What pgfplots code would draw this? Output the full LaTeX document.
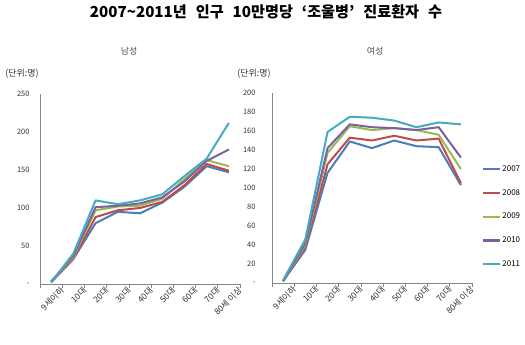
\documentclass[border=0pt]{standalone}
\usepackage{fontspec}
\setmainfont{Noto Sans CJK KR}
\usepackage{pgfplots}
\pgfplotsset{compat=1.18}
\definecolor{c07}{HTML}{4A7EBB}
\definecolor{c08}{HTML}{BE4B48}
\definecolor{c09}{HTML}{98B954}
\definecolor{c10}{HTML}{7D60A0}
\definecolor{c11}{HTML}{46AAC5}
\definecolor{axgray}{HTML}{868686}
\pgfplotsset{
  common/.style={
    width=200bp, height=190bp, scale only axis,
    axis x line*=bottom, axis y line*=left,
    axis line style={draw=axgray, line width=0.6bp},
    xmin=-0.5, xmax=8.5,
    xtick={0,...,8},
    xticklabels={9세이하,10대,20대,30대,40대,50대,60대,70대,80세 이상},
    minor xtick={-0.5,0.5,...,8.5},
    major tick length=0pt, minor tick length=4bp, tick align=outside,
    minor tick style={draw=axgray, line width=0.6bp},
    xticklabel style={rotate=45, anchor=north east, xshift=5bp, yshift=-7bp, inner sep=0.5bp, font=\fontsize{8.5}{9}\selectfont, text=black!80},
    yticklabel style={font=\fontsize{7.5}{8}\selectfont, text=black!80, xshift=-7bp},
    /pgf/number format/assume math mode=true,
    every axis plot/.append style={line width=2bp, no markers, line join=round},
  }
}
\begin{document}
\begin{tikzpicture}[x=1bp,y=1bp]
\useasboundingbox (0,0) rectangle (525,344);
\node[font=\bfseries\fontsize{15.2}{16}\selectfont] at (266,332) {2007\textasciitilde2011년\hspace*{9bp}인구\hspace*{9bp}10만명당\hspace*{9bp}‘조울병’\hspace*{9bp}진료환자\hspace*{9bp}수};
\node[font=\fontsize{9}{10}\selectfont, text=black!70] at (129,293) {남성};
\node[font=\fontsize{9}{10}\selectfont, text=black!70] at (375,293) {여성};
\node[font=\fontsize{9}{10}\selectfont, text=black!80] at (22,270) {(단위:명)};
\node[font=\fontsize{9}{10}\selectfont, text=black!80] at (254,270) {(단위:명)};
\begin{axis}[common, at={(40bp,60bp)}, anchor=south west,
  ymin=0, ymax=250, ytick={0,50,...,250}, yticklabels={-,50,100,150,200,250}]
\addplot[c07] coordinates {(0,2) (1,33) (2,80) (3,95) (4,93) (5,107) (6,128) (7,155) (8,147)};
\addplot[c08] coordinates {(0,3) (1,33) (2,88) (3,97) (4,100) (5,108) (6,130) (7,158) (8,149)};
\addplot[c09] coordinates {(0,3) (1,35) (2,97) (3,102) (4,103) (5,112) (6,138) (7,163) (8,155)};
\addplot[c10] coordinates {(0,3) (1,37) (2,101) (3,103) (4,106) (5,114) (6,135) (7,162) (8,177)};
\addplot[c11] coordinates {(0,2) (1,40) (2,110) (3,105) (4,110) (5,118) (6,142) (7,165) (8,212)};
\end{axis}
\begin{axis}[common, at={(272bp,61bp)}, anchor=south west,
  ymin=0, ymax=200, ytick={0,20,...,200}, yticklabels={-,20,40,60,80,100,120,140,160,180,200},
  yticklabel style={xshift=-6bp},
  legend style={at={(1.05,0.64)}, anchor=north west, draw=none, fill=none,
    font=\fontsize{8}{8}\selectfont, row sep=12.5bp, inner xsep=0pt,
    nodes={inner xsep=1bp}},
  legend cell align=left,
  legend image code/.code={\draw[line width=2.2bp] (0bp,0bp) -- (17bp,0bp);}]
\addplot[c07] coordinates {(0,2) (1,35) (2,116) (3,149) (4,142) (5,150) (6,144) (7,143) (8,103)};
\addplot[c08] coordinates {(0,2) (1,38) (2,125) (3,153) (4,150) (5,155) (6,150) (7,152) (8,105)};
\addplot[c09] coordinates {(0,2) (1,40) (2,137) (3,165) (4,161) (5,163) (6,161) (7,156) (8,120)};
\addplot[c10] coordinates {(0,2) (1,42) (2,142) (3,167) (4,164) (5,163) (6,161) (7,164) (8,132)};
\addplot[c11] coordinates {(0,3) (1,46) (2,159) (3,175) (4,174) (5,171) (6,164) (7,169) (8,167)};
\legend{2007,2008,2009,2010,2011}
\end{axis}
\end{tikzpicture}
\end{document}
